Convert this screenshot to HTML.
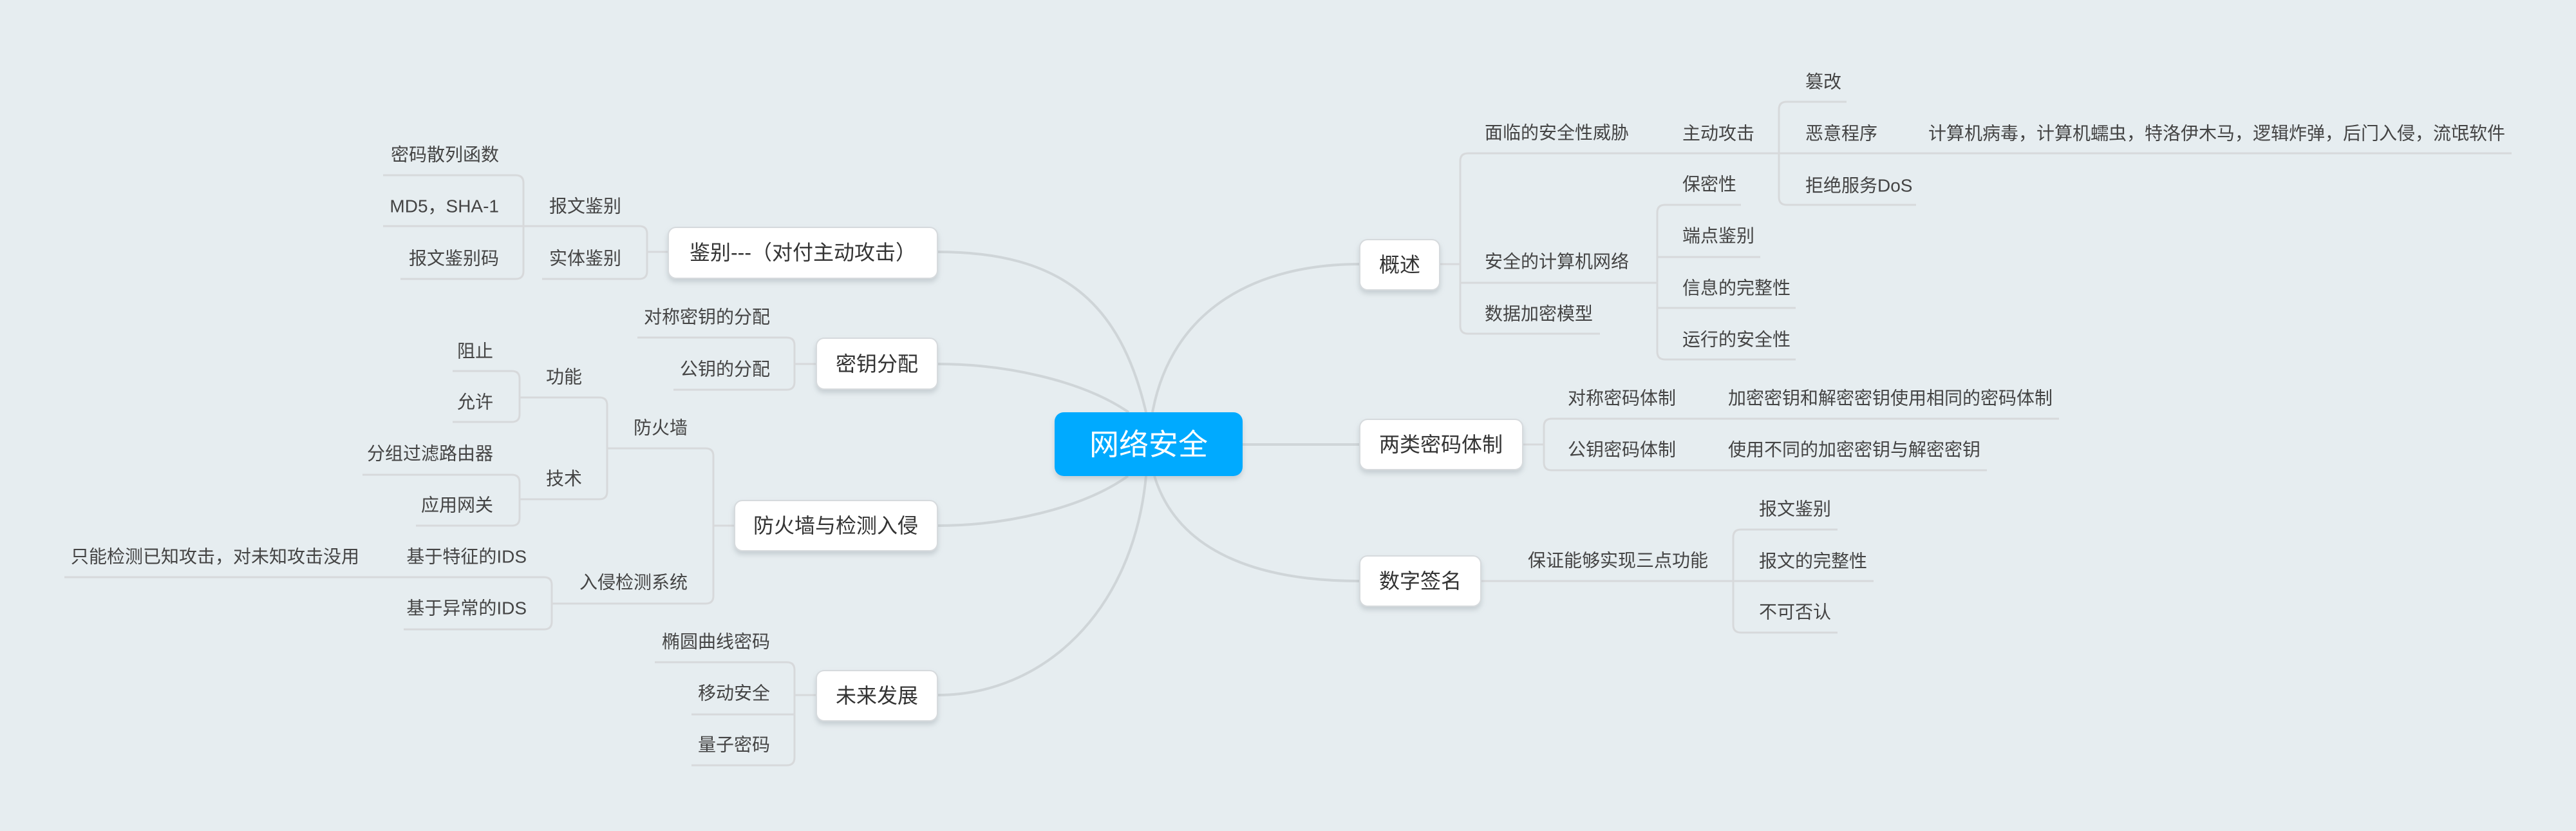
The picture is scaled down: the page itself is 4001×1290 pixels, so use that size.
<!DOCTYPE html>
<html><head><meta charset="utf-8"><style>
html,body{margin:0;padding:0;background:#e6edf0;}
svg{display:block;}
text{font-family:"Liberation Sans","Noto Sans CJK SC",sans-serif;fill:#444;font-size:28px;dominant-baseline:central;}
.b{font-size:32px;fill:#333;}
.l{text-anchor:end;}
</style></head><body>
<svg width="4001" height="1290" viewBox="0 0 4001 1290" xmlns="http://www.w3.org/2000/svg">
<defs><filter id="sh" x="-20%" y="-20%" width="140%" height="160%"><feDropShadow dx="0" dy="5" stdDeviation="4" flood-color="#8a969c" flood-opacity="0.35"/></filter></defs>
<rect width="4001" height="1290" fill="#e6edf0"/>
<g fill="none" stroke="#cfd5d8" stroke-width="4">
<path d="M1790,640 C1820,480 1950,410 2112,410"/>
<path d="M1930,690 L2112,690"/>
<path d="M1793,739 C1830,860 1960,902 2112,902"/>
<path d="M1780,640 C1740,470 1650,391 1456,391"/>
<path d="M1753,640 C1680,590 1560,565 1456,565"/>
<path d="M1752,739 C1680,790 1560,816 1456,816"/>
<path d="M1780,739 C1760,950 1620,1079 1456,1079"/>
</g>
<g fill="none" stroke="#d7d9db" stroke-width="3">
<!-- 概述 -->
<path d="M2236,410 L2268,410 M2268,250 L2268,506 M2268,250 Q2268,238 2280,238 L3901,238 M2268,439 L2574,439 M2268,506 Q2268,518 2280,518 L2485,518"/>
<path d="M2763,170 L2763,306 M2763,170 Q2763,158 2775,158 L2868,158 M2763,306 Q2763,318 2775,318 L2976,318"/>
<path d="M2574,330 L2574,546 M2574,330 Q2574,318 2586,318 L2704,318 M2574,399 L2734,399 M2574,478 L2789,478 M2574,546 Q2574,558 2586,558 L2789,558"/>
<!-- 两类 -->
<path d="M2365,690 L2398,690 M2398,662 L2398,718 M2398,662 Q2398,650 2410,650 L3198,650 M2398,718 Q2398,730 2410,730 L3086,730"/>
<!-- 数字签名 -->
<path d="M2300,902 L2910,902 M2692,834 L2692,970 M2692,834 Q2692,822 2704,822 L2854,822 M2692,970 Q2692,982 2704,982 L2854,982"/>
<!-- 鉴别 -->
<path d="M1038,391 L1005,391 M1005,363 L1005,421 M1005,363 Q1005,351 993,351 L595,351 M1005,421 Q1005,433 993,433 L842,433"/>
<path d="M813,284 L813,421 M813,284 Q813,272 801,272 L595,272 M813,421 Q813,433 801,433 L622,433"/>
<!-- 密钥分配 -->
<path d="M1268,565 L1234,565 M1234,536 L1234,593 M1234,536 Q1234,524 1222,524 L990,524 M1234,593 Q1234,605 1222,605 L1046,605"/>
<!-- 防火墙与检测入侵 -->
<path d="M1141,816 L1108,816 M1108,708 L1108,925 M1108,708 Q1108,696 1096,696 L943,696 M1108,925 Q1108,937 1096,937 L857,937"/>
<path d="M943,629 L943,763 M943,629 Q943,617 931,617 L807,617 M943,763 Q943,775 931,775 L807,775"/>
<path d="M807,588 L807,643 M807,588 Q807,576 795,576 L703,576 M807,643 Q807,655 795,655 L703,655"/>
<path d="M807,749 L807,804 M807,749 Q807,737 795,737 L563,737 M807,804 Q807,816 795,816 L646,816"/>
<path d="M857,908 L857,965 M857,908 Q857,896 845,896 L100,896 M857,965 Q857,977 845,977 L627,977"/>
<!-- 未来发展 -->
<path d="M1268,1079 L1234,1079 M1234,1040 L1234,1176 M1234,1040 Q1234,1028 1222,1028 L1017,1028 M1234,1109 L1074,1109 M1234,1176 Q1234,1188 1222,1188 L1074,1188"/>
</g>
<!-- boxes -->
<g filter="url(#sh)">
<rect x="1638" y="640" width="292" height="99" rx="14" fill="#00aaff"/>
<g fill="#fff" stroke="#d6dadd" stroke-width="2">
<rect x="2112" y="372" width="124" height="78" rx="12"/>
<rect x="2112" y="651" width="253" height="78" rx="12"/>
<rect x="2112" y="863" width="188" height="78" rx="12"/>
<rect x="1038" y="353" width="418" height="79" rx="12"/>
<rect x="1268" y="525" width="188" height="79" rx="12"/>
<rect x="1141" y="777" width="315" height="78" rx="12"/>
<rect x="1268" y="1041" width="188" height="78" rx="12"/>
</g></g>
<text x="1784" y="690" text-anchor="middle" style="font-size:46px;fill:#fff">网络安全</text>
<text class="b" x="2174" y="411" text-anchor="middle">概述</text>
<text class="b" x="2238" y="690" text-anchor="middle">两类密码体制</text>
<text class="b" x="2206" y="902" text-anchor="middle">数字签名</text>
<text class="b" x="1247" y="392" text-anchor="middle">鉴别---（对付主动攻击）</text>
<text class="b" x="1362" y="565" text-anchor="middle">密钥分配</text>
<text class="b" x="1298" y="816" text-anchor="middle">防火墙与检测入侵</text>
<text class="b" x="1362" y="1080" text-anchor="middle">未来发展</text>
<!-- right texts -->
<text x="2306" y="206">面临的安全性威胁</text>
<text x="2306" y="406">安全的计算机网络</text>
<text x="2306" y="487">数据加密模型</text>
<text x="2613" y="207">主动攻击</text>
<text x="2804" y="127">篡改</text>
<text x="2804" y="207">恶意程序</text>
<text x="2995" y="207">计算机病毒，计算机蠕虫，特洛伊木马，逻辑炸弹，后门入侵，流氓软件</text>
<text x="2804" y="288">拒绝服务DoS</text>
<text x="2613" y="286">保密性</text>
<text x="2613" y="366">端点鉴别</text>
<text x="2613" y="447">信息的完整性</text>
<text x="2613" y="527">运行的安全性</text>
<text x="2435" y="618">对称密码体制</text>
<text x="2684" y="618">加密密钥和解密密钥使用相同的密码体制</text>
<text x="2435" y="698">公钥密码体制</text>
<text x="2684" y="698">使用不同的加密密钥与解密密钥</text>
<text x="2373" y="870">保证能够实现三点功能</text>
<text x="2732" y="790">报文鉴别</text>
<text x="2732" y="871">报文的完整性</text>
<text x="2732" y="950">不可否认</text>
<!-- left texts -->
<text class="l" x="965" y="320">报文鉴别</text>
<text class="l" x="965" y="401">实体鉴别</text>
<text class="l" x="775" y="240">密码散列函数</text>
<text class="l" x="775" y="320">MD5，SHA-1</text>
<text class="l" x="775" y="401">报文鉴别码</text>
<text class="l" x="1196" y="492">对称密钥的分配</text>
<text class="l" x="1196" y="573">公钥的分配</text>
<text class="l" x="1068" y="664">防火墙</text>
<text class="l" x="1068" y="904">入侵检测系统</text>
<text class="l" x="904" y="585">功能</text>
<text class="l" x="904" y="743">技术</text>
<text class="l" x="766" y="545">阻止</text>
<text class="l" x="766" y="624">允许</text>
<text class="l" x="766" y="704">分组过滤路由器</text>
<text class="l" x="766" y="784">应用网关</text>
<text class="l" x="818" y="864">基于特征的IDS</text>
<text class="l" x="818" y="944">基于异常的IDS</text>
<text class="l" x="558" y="864">只能检测已知攻击，对未知攻击没用</text>
<text class="l" x="1196" y="996">椭圆曲线密码</text>
<text class="l" x="1196" y="1076">移动安全</text>
<text class="l" x="1196" y="1156">量子密码</text>
</svg>
</body></html>
